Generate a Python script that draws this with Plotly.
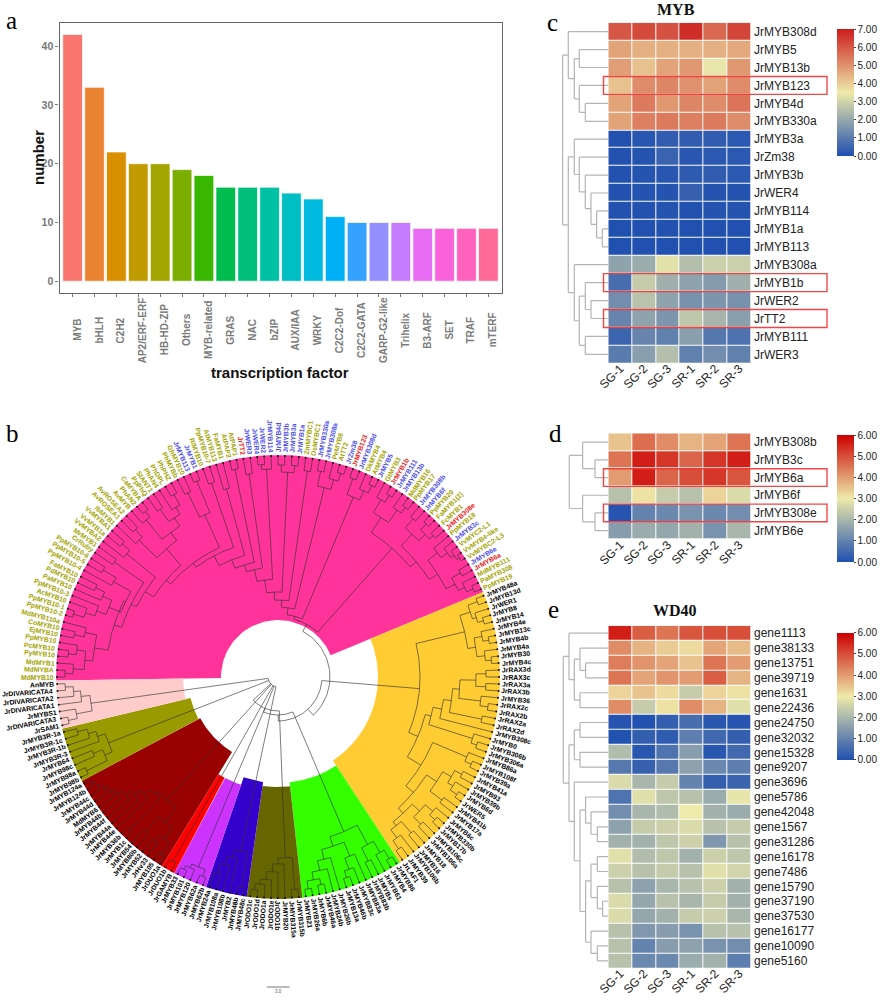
import math
import numpy as np
import plotly.graph_objects as go

# ---------- panel a ----------
TF_NAMES = ["MYB","bHLH","C2H2","AP2/ERF-ERF","HB-HD-ZIP","Others","MYB-related","GRAS","NAC","bZIP","AUX/IAA","WRKY","C2C2-Dof","C2C2-GATA","GARP-G2-like","Trihelix","B3-ARF","SET","TRAF","mTERF"]
TF_COUNTS = [42,33,22,20,20,19,18,16,16,16,15,14,11,10,10,10,9,9,9,9]
TF_COLORS = ["#F8766D","#EA8331","#D89000","#C09B00","#A3A500","#7CAE00","#39B600","#00BB4E","#00BF7D","#00C1A3","#00BFC4","#00BAE0","#00B0F6","#35A2FF","#9590FF","#C77CFF","#E76BF3","#FA62DB","#FF62BC","#FF6A98"]

# ---------- heat maps ----------
SAMPLES = ["SG-1","SG-2","SG-3","SR-1","SR-2","SR-3"]
MYB_ROWS = ["JrMYB308d","JrMYB5","JrMYB13b","JrMYB123","JrMYB4d","JrMYB330a","JrMYB3a","JrZm38","JrMYB3b","JrWER4","JrMYB114","JrMYB1a","JrMYB113","JrMYB308a","JrMYB1b","JrWER2","JrTT2","JrMYB111","JrWER3"]
MYB_VALUES = [
 [6.0,6.2,6.1,6.7,5.7,6.3],[4.7,4.5,4.5,4.5,4.5,4.6],[4.8,4.2,4.7,4.9,3.4,4.9],[4.2,5.1,5.2,5.0,4.7,5.1],
 [4.7,5.4,4.9,5.2,5.1,5.5],[4.7,5.3,5.4,5.3,5.4,5.1],[.05,.15,.3,.3,.3,.2],[.05,.1,.45,.15,.2,.2],
 [.05,.1,.15,.25,.3,.2],[.05,.1,.1,.4,.1,.1],[.05,.05,.1,.05,.1,.1],[.02,.03,.05,.02,.04,.03],[.02,.03,.02,.02,.03,.03],
 [1.9,2.1,3.3,2.5,2.9,2.9],[.7,2.8,2.2,1.9,1.7,2.2],[1.4,2.6,1.9,1.5,1.6,1.5],[1.2,1.9,1.6,2.7,2.3,1.8],
 [.5,1.2,1.1,1.8,.9,.8],[1.0,1.8,2.5,1.1,1.4,1.1]]
MYB_BOXED = ["JrMYB123","JrMYB1b","JrTT2"]
MYB_DENDRO = (45.7,
 (40,"JrMYB308d",(34,(29,"JrMYB5","JrMYB13b"),(29,"JrMYB123",(23,"JrMYB4d","JrMYB330a")))),
 (40,(34,"JrMYB3a",(29,"JrZm38",(23,"JrMYB3b",(17.3,"JrWER4",(11.7,"JrMYB114",(6,"JrMYB1a","JrMYB113")))))),
     (34,"JrMYB308a",(29,(23,"JrMYB1b",(17.3,"JrWER2","JrTT2")),(23,"JrMYB111","JrWER3")))))

MYB2_ROWS = ["JrMYB308b","JrMYB3c","JrMYB6a","JrMYB6f","JrMYB308e","JrMYB6e"]
MYB2_VALUES = [[3.5,4.6,4.2,3.7,3.9,4.5],[4.5,5.6,5.3,4.7,5.3,5.6],[4.0,5.6,4.7,5.0,5.3,4.9],
 [2.2,3.1,2.4,2.2,3.3,2.7],[.1,1.0,1.1,1.3,1.1,1.2],[1.5,1.8,1.7,1.9,1.3,2.0]]
MYB2_BOXED = ["JrMYB6a","JrMYB308e"]
MYB2_DENDRO = (39,(25.7,"JrMYB308b",(13.3,"JrMYB3c","JrMYB6a")),(25.7,"JrMYB6f",(13.3,"JrMYB308e","JrMYB6e")))

WD_ROWS = ["gene1113","gene38133","gene13751","gene39719","gene1631","gene22436","gene24750","gene32032","gene15328","gene9207","gene3696","gene5786","gene42048","gene1567","gene31286","gene16178","gene7486","gene15790","gene37190","gene37530","gene16177","gene10090","gene5160"]
WD_VALUES = [[5.6,4.8,4.5,4.9,5.0,5.0],[4.2,3.7,3.4,3.2,3.9,3.6],[4.4,4.1,3.9,3.5,4.5,4.0],[4.5,3.9,4.1,4.0,4.8,3.7],
 [3.3,3.5,3.2,2.4,3.3,3.1],[4.2,2.4,3.1,4.2,3.7,2.8],[.1,.05,.3,.6,.15,.1],[.05,.3,.25,.9,.5,.3],[2.1,.15,.7,1.5,.15,.5],
 [.8,.35,.8,1.6,1.1,.9],[2.7,2.0,2.4,1.0,.3,.4],[.7,2.8,2.3,2.2,1.8,2.9],[1.2,2.0,2.1,3.0,1.9,1.8],[1.6,2.4,2.5,2.7,2.2,2.4],
 [1.9,1.9,2.3,2.5,1.4,2.2],[2.8,2.1,2.3,1.9,2.5,2.3],[2.5,2.2,2.4,2.2,2.8,2.6],[2.2,1.6,2.0,2.2,2.5,1.9],[2.7,1.7,2.2,2.0,2.4,1.9],
 [2.7,1.7,1.9,2.4,2.5,2.0],[2.2,1.4,1.5,1.3,2.2,2.2],[2.2,1.0,1.5,1.6,1.3,1.2],[2.2,1.1,1.1,1.8,1.9,.9]]
WD_DENDRO = (45,
 (39.3,"gene1113",(34,(28.3,"gene38133",(22.7,"gene13751","gene39719")),(28.3,"gene1631","gene22436"))),
 (39.3,(34,(28.3,"gene24750","gene32032"),(28.3,"gene15328","gene9207")),
  (34,"gene3696",(28.3,(22.7,"gene5786",(17.3,"gene42048",(11,"gene1567","gene31286"))),
   (22.7,(17.3,(11,"gene16178","gene7486"),(11,"gene15790",(5.7,"gene37190","gene37530"))),(17.3,"gene16177",(11,"gene10090","gene5160")))))))

# ---------- circular tree: (node radius, child, child, ...) ----------
T_A = (186,(194,(205,(213,"MdMYB10","MdMYBA"),"MdMYB1"),(203,(211,"PyMYB10","PcMYB10"),"PpMYB10")),(198,(208,"EjMYB10","CoMYB10"),"MdMYB110a"))
T_B = (170,(183,(193,(203,(214,"PpMYB10-2","PpMYB10-1"),"AcMYB10"),"PpMYB10-3"),(193,"PaMYB10",(203,"PdMYB10","FaMYB10"))),(190,"PpMYB10-4",(205,"PpMYB10-5","PpMYB10-6")))
T_C = (158,(164,(172,T_A,T_B),(200,"CrRuby","MrMYB1")),(195,"VvMYBA2",(205,"VvMYB1a","VvMYBA1")))
T_D = (170,(195,"IbMYB1",(205,"AvROSEA1","AvROSEA2")),(180,(205,"AvMYB",(212,"PhAN2","CaMYBA")),(190,(205,"PpPhQ","SlANT1"),(198,"PhAN4",(210,"PhDPL","PhPHZ")))))
T_Q1 = (142,(148,T_C,T_D),(178,(205,"PhMYBb","GhMYB10"),(212,"JrMYB113","JrMYB1")))
T_Q2 = (137,T_Q1,(205,"RiMYB10","PpMYB10-7"))
T_Q3 = (126,T_Q2,(195,"AtMYB113","FaMYB1"))
T_Q4 = (117,T_Q3,(212,"AtPAP2","AtPAP1"))
T_Q5 = (110,T_Q4,(205,"JrTT2","JrWER3"))
T_Q6 = (98,T_Q5,(208,(213,"JrWER4","JrWER2"),"JrMYB114"))
T_Q7 = (85,T_Q6,(205,(212,"JrMYB4d","JrMYB3b"),(212,"JrMYB3a","JrMYB1a")))
T_Q8 = (77,T_Q7,(208,"ZmMYBC1","OsMYBC1"))
T_Q9 = (70,T_Q8,(195,(210,"JrMYB330a","JrMYB308a"),(205,"PeMYB6",(213,"AtTT2","JrZm38"))))
T_Q10 = (63,T_Q9,(195,(212,"JrMYB123","JrMYB308d"),(205,"DkMYB4",(213,"AtMYB4","JrMYB5"))))
T_R = (172,(190,(205,"GtMYB3",(213,"JrMYB1b","JrMYB111")),(205,"JrMYB13b",(212,"MdMYB16","PpMYB17"))),
       (180,(196,(208,"JrMYB308b","JrMYB6f"),(205,(213,"PpMYB20","FaMYB1(2)"),(210,"FcMYB1","JrMYB308e"))),
        (190,(202,"PpMYB18",(210,"JrMYB3c",(214,"VvMYC2-L1",(217,"VvMYB4-like","VvMYBC2-L3")))),
         (200,(210,"JrMYB6e","JrMYB6a"),(207,"MdMYB111",(214,"PaMYB308","PpMYB19"))))))
T_PINK = (60,T_Q10,T_R)

T_ORANGE_A = (192,(203,(213,"JrMYB48a","JrMYB13d"),(207,"JrWER1",(213,"JrMYB8","JrMYB14"))),(200,(208,"JrMYB4e",(214,"JrMYB13c","JrMYB4b")),(208,"JrMYB4a",(214,"JrMYB30","JrMYB4c"))))
T_L1 = (182,(198,(208,"JrRAX3d","JrRAX3c"),(208,"JrRAX3a","JrRAX3b")),(204,"JrMYB36",(212,"JrRAX2c","JrRAX2b")))
T_L4 = (158,(167,(175,T_L1,(208,"JrRAX2a","JrRAX2d")),"JrMYB308c"),(204,"JrMYB0",(210,"JrMYB306b","JrMYB306a")))
T_L6 = (168,(205,"JrMYB86a",(212,"JrMYB108f","JrMYB39a")),
        (178,(190,(200,(208,"JrMYB41a","JrMYB93"),(206,"JrMYB39b",(214,"JrMYB6d","JrWER5"))),(205,"JrMYB41b","JrMYB17a")),
         (185,(195,(205,"JrMYB6c",(212,"JrMYB330b","JrMYB17b")),(205,"JrMYB106c","JrMYB106a")),
          (190,(205,"JrMYB18","JrMYB16"),(200,"JrMYB106b",(210,"JrMYB39","JrLAF1"))))))
T_ORANGE = (142,T_ORANGE_A,(152,T_L4,T_L6))
T_GREEN = (168,(190,(203,(213,"JrMYB86","JrMYB4"),"JrMYB61"),(205,"JrMYBs","JrMYB83b")),
           (178,(193,"JrMYB83a",(205,"JrMYB83c",(212,"JrMYB46b","JrMYB13a"))),
            (188,"JrMYB26b",(198,"JrMYB24b",(206,(212,"JrMYB46a","JrMYB6b"),(214,"JrMYB26a","JrMYB21"))))))
T_BROWN = (181,(213,"JrMYB315b","JrMYB315a"),(187,"JrMYB20",(195,"JrODO1b",(203,"JrODO1e",(208,"JrODO1a",(214,"JrODO1d","JrODO1c"))))))
T_BLUE = (178,(213,"JrMYB48c","JrMYB48b"),(186,"JrMYB2",(195,"JrMYB108b",(205,"JrMYB108a","JrMYB24a"))))
T_PURPLE = (206,(213,"JrMYB62b","JrMYB62a"),(210,"JrMYB120",(214,"JrMYB101","JrMYB33")))
T_RED = (212,"JrGAMYB","JrDUO1b")
T_DARK = (166,(184,(198,(212,"JrDUO1a","JrMYB105"),(205,"JrHv33","JrMYB52")),(203,"JrMYB80b","JrMYB54")),
          (170,(213,"JrMYB1c","JrMYB36b"),(178,"JrMYB44e",(186,"JrMYB44a",(193,"JrMYB44f",(199,"JrMYB44b",(203,"MdMYB6",(207,"JrMYB44d",(211,"JrMYB44c",(215,"JrMYB124b","JrMYB124a"))))))))))
T_OLIVE = (182,(190,(213,"JrMYB98b","JrMYB98a"),(200,"JrMYB98c","JrMYB64")),(190,"JrMYB3R-3",(198,"JrMYB3R-1b",(208,"JrMYB3R-1c","JrMYB3R-1a"))))
T_LIGHT = (189,(205,(214,"JrSAM1","JrDIVARICATA3"),"JrMYBS1"),(198,"JrDIVARICATA1",(205,"JrDIVARICATA2",(213,"JrDIVARICATA4","AnMYB"))))
T_FAN = (10,T_BLUE,T_PURPLE,T_RED,T_DARK,T_OLIVE,T_LIGHT)
T_ROOT = (52,T_PINK,(44,T_ORANGE,(38,T_GREEN,(34,T_BROWN,T_FAN))))

# clade: tree, sector colour, inner radius of the sector
CLADE_TREES = [T_PINK,T_ORANGE,T_GREEN,T_BROWN,T_BLUE,T_PURPLE,T_RED,T_DARK,T_OLIVE,T_LIGHT]
CLADE_COLORS = ["#ff3399","#ffcc33","#33ff00","#666600","#3300cc","#cc33ff","#ff0000","#990000","#999900","#ffcccc"]
CLADE_INNER = [57,100,106,110,106,114,114,88,90,95]
RED_LABELS = ["JrTT2","JrMYB123","JrMYB1b","JrMYB308e","JrMYB6a"]

# ---------- helpers ----------
W, H = 881, 1000
FONT = "Liberation Sans"
SERIF = "Liberation Serif"
def dx(a, b): return [a/W, b/W]
def dy(top, bot): return [1-bot/H, 1-top/H]

fig = go.Figure()
ann = []
shapes = []

# panel a
fig.add_trace(go.Bar(x=TF_NAMES, y=TF_COUNTS, width=0.9, marker=dict(color=TF_COLORS, line=dict(color="rgba(255,255,255,0.7)", width=1)), xaxis="x", yaxis="y", showlegend=False))
layout = dict(
 xaxis=dict(domain=dx(59.5,501.5), range=[-0.6,19.6], anchor="y", showticklabels=False, ticks="outside", ticklen=3, tickcolor="#777", showgrid=False, zeroline=False, showline=True, mirror=True, linecolor="#666", linewidth=1.2, type="category"),
 yaxis=dict(domain=dy(22.7,293.3), range=[-2.05,44.0], anchor="x", tickvals=[0,10,20,30,40], ticks="outside", ticklen=3, tickcolor="#777", tickfont=dict(family=FONT,size=10.5,color="#777",weight="bold"), showgrid=False, zeroline=False, showline=True, mirror=True, linecolor="#666", linewidth=1.2),
)
def paper_text(text, px, py, font, angle=0):
    ann.append(dict(x=px/W, y=1-py/H, xref="paper", yref="paper", text=text, textangle=angle, showarrow=False, xanchor="center", yanchor="middle", font=font))

for n in TF_NAMES:
    ann.append(dict(x=n, xref="x", xshift=4, y=1-330/H, yref="paper", text=n, textangle=-90, showarrow=False, xanchor="center", yanchor="middle", font=dict(family=FONT,size=10,color="#7a7a7a",weight="bold")))
paper_text("<b>transcription factor</b>", 280, 372, dict(family=FONT,size=15,color="#111"))
paper_text("<b>number</b>", 38, 158, dict(family=FONT,size=15,color="#111"), -90)

# heat maps
def dendro_lines(node, rows, xs, ys):
    if isinstance(node, str):
        return 0.0, float(rows.index(node))
    pts = [dendro_lines(c, rows, xs, ys) for c in node[1:]]
    h = node[0]
    for (ch, cy) in pts:
        xs += [ch, h, None]; ys += [cy, cy, None]
    xs += [h, h, None]; ys += [pts[0][1], pts[-1][1], None]
    return h, sum(p[1] for p in pts)/len(pts)

def heat(idx, rows, vals, tree, boxed, top, bot, cb_top, cb_bot, zmax, high):
    xa, ya, xb, yb = f"x{idx}", f"y{idx}", f"x{idx+1}", f"y{idx+1}"
    fig.add_trace(go.Heatmap(z=vals, x=list(range(6)), y=list(range(len(rows))), zmin=0, zmax=zmax, xgap=1, ygap=1,
        colorscale=[[0,"#1f4fb0"],[0.5,"#eeeaaa"],[1,high]], xaxis=xa, yaxis=ya,
        colorbar=dict(x=837.3/W, xanchor="left", y=1-cb_top/H, yanchor="top", len=(cb_bot-cb_top)/H, thickness=17, xpad=0, ypad=0, outlinewidth=0,
                      tickvals=list(range(zmax+1)), tickformat=".2f", ticks="outside", ticklen=2, tickcolor="#444", tickfont=dict(family=FONT,size=10,color="#222"))))
    layout[f"xaxis{idx}"] = dict(domain=dx(608.3,751), range=[-0.5,5.5], anchor=ya, tickvals=list(range(6)), ticktext=SAMPLES, tickangle=-45, tickfont=dict(family=FONT,size=12,color="#222"), ticks="", ticklabelstandoff=-5, showgrid=False, zeroline=False, showline=False)
    layout[f"yaxis{idx}"] = dict(domain=dy(top,bot), range=[len(rows)-0.5,-0.5], anchor=xa, side="right", tickvals=list(range(len(rows))), ticktext=rows, tickfont=dict(family=FONT,size=12,color="#222"), ticks="", ticklabelstandoff=2, showgrid=False, zeroline=False, showline=False)
    xs, ys = [], []
    dendro_lines(tree, rows, xs, ys)
    fig.add_trace(go.Scatter(x=xs, y=ys, mode="lines", line=dict(color="#b4b4b4", width=1.2), xaxis=xb, yaxis=yb, showlegend=False, hoverinfo="skip"))
    layout[f"xaxis{idx+1}"] = dict(domain=dx(558.3,608.3), range=[50,0], anchor=yb, visible=False)
    layout[f"yaxis{idx+1}"] = dict(domain=dy(top,bot), range=[len(rows)-0.5,-0.5], anchor=xb, visible=False)
    yname = f"y{idx}"
    for b in boxed:
        r = rows.index(b)
        shapes.append(dict(type="rect", xref="paper", yref=yname, x0=603.5/W, x1=827/W, y0=r-0.5, y1=r+0.5, line=dict(color="rgba(240,50,50,0.9)", width=1.4), fillcolor="rgba(0,0,0,0)"))

heat(2, MYB_ROWS, MYB_VALUES, MYB_DENDRO, MYB_BOXED, 22.7, 363.3, 29, 155.5, 7, "#cc1c1c")
heat(4, MYB2_ROWS, MYB2_VALUES, MYB2_DENDRO, MYB2_BOXED, 433.3, 539.5, 435, 562, 6, "#cc0000")
heat(6, WD_ROWS, WD_VALUES, WD_DENDRO, [], 625.7, 968.3, 632.7, 760, 6, "#cc0000")

# circular tree
CX, CY, RT = 278.0, 677.0, 221.0
def all_leaves(n):
    return [n] if isinstance(n, str) else [l for c in n[1:] for l in all_leaves(c)]
ORDER = all_leaves(T_ROOT)
STEP = 360.0/len(ORDER)
def theta(i): return 180.0 - i*STEP
def pol(r, deg): return r*math.cos(math.radians(deg)), r*math.sin(math.radians(deg))

lx, ly = [], []
def walk(n):
    if isinstance(n, str):
        return RT, theta(ORDER.index(n))
    kids = [walk(c) for c in n[1:]]
    r = n[0]
    for (cr, ca) in kids:
        a, b = pol(r, ca), pol(cr, ca)
        lx.extend([a[0], b[0], None]); ly.extend([a[1], b[1], None])
    angs = np.linspace(kids[0][1], kids[-1][1], 40)
    for t in angs:
        p = pol(r, t); lx.append(p[0]); ly.append(p[1])
    lx.append(None); ly.append(None)
    return r, (kids[0][1]+kids[-1][1])/2
walk(T_ROOT)

for tree, col, inner in zip(CLADE_TREES, CLADE_COLORS, CLADE_INNER):
    lv = all_leaves(tree)
    t0 = theta(ORDER.index(lv[0])) + STEP/2
    t1 = theta(ORDER.index(lv[-1])) - STEP/2
    angs = np.linspace(t0, t1, 60)
    sx = [pol(RT+1, t)[0] for t in angs] + [pol(inner, t)[0] for t in angs[::-1]]
    sy = [pol(RT+1, t)[1] for t in angs] + [pol(inner, t)[1] for t in angs[::-1]]
    fig.add_trace(go.Scatter(x=sx, y=sy, mode="lines", fill="toself", fillcolor=col, line=dict(width=0, color=col), xaxis="x8", yaxis="y8", showlegend=False, hoverinfo="skip"))

fig.add_trace(go.Scatter(x=lx, y=ly, mode="lines", line=dict(color="rgba(50,50,50,0.8)", width=0.8), xaxis="x8", yaxis="y8", showlegend=False, hoverinfo="skip"))
tips = [pol(RT, theta(i)) for i in range(len(ORDER))]
fig.add_trace(go.Scatter(x=[p[0] for p in tips], y=[p[1] for p in tips], mode="markers", marker=dict(color="#111", size=2), xaxis="x8", yaxis="y8", showlegend=False, hoverinfo="skip"))
# scale bar
fig.add_trace(go.Scatter(x=[267-CX, 289.5-CX], y=[CY-987, CY-987], mode="lines", line=dict(color="#777", width=1), xaxis="x8", yaxis="y8", showlegend=False, hoverinfo="skip"))
ann.append(dict(x=278-CX, y=CY-991.5, xref="x8", yref="y8", text="3.0", showarrow=False, xanchor="center", yanchor="middle", font=dict(family=FONT,size=4.5,color="#555")))
layout["xaxis8"] = dict(domain=dx(0,540), range=[0-CX, 540-CX], anchor="y8", visible=False)
layout["yaxis8"] = dict(domain=dy(420,1000), range=[CY-1000, CY-420], anchor="x8", visible=False)

CW = {**{c:.722 for c in "ABCDEFGHKLNOPQRSTUVXYZ"}, "M":.833, "W":.944, "I":.278, "J":.556, "-":.333, "(":.333, ")":.333, "i":.278, "l":.278, "t":.333, "r":.389, "f":.333, "m":.889, "j":.278}
def tw(s, size): return sum(CW.get(c, .57) for c in s)*size
LEAF_SIZE = 6.8
pink_set = set(all_leaves(T_PINK))
for i, name in enumerate(ORDER):
    t = theta(i)
    L = tw(name, LEAF_SIZE)
    x, y = pol(RT + 3 + L/2, t)
    c = math.cos(math.radians(t))
    angle = -t if c >= 0 else 180 - t
    if name in RED_LABELS: col = "#ee2020"
    elif name in pink_set: col = "#4d4df0" if name.startswith("Jr") else "#a3a300"
    else: col = "#000"
    ann.append(dict(x=x, y=y, xref="x8", yref="y8", text=name, textangle=angle, showarrow=False, xanchor="center", yanchor="middle", font=dict(family=FONT,size=LEAF_SIZE,color=col,weight="bold")))

# titles and panel letters
for txt, px, py in [("a",11,20),("b",12,433),("c",552,22),("d",555,433),("e",553,609)]:
    paper_text(txt, px, py, dict(family=SERIF,size=25,color="#000"))
paper_text("<b>MYB</b>", 676, 9, dict(family=SERIF,size=16,color="#111"))
paper_text("<b>WD40</b>", 675, 610, dict(family=SERIF,size=16,color="#111"))

fig.update_layout(width=W, height=H, margin=dict(l=0,r=0,t=0,b=0,autoexpand=False), paper_bgcolor="white", plot_bgcolor="white", showlegend=False, annotations=ann, shapes=shapes, **layout)
fig.write_html("out.html", config=dict(displayModeBar=False), post_script="document.body.style.margin='0';")
